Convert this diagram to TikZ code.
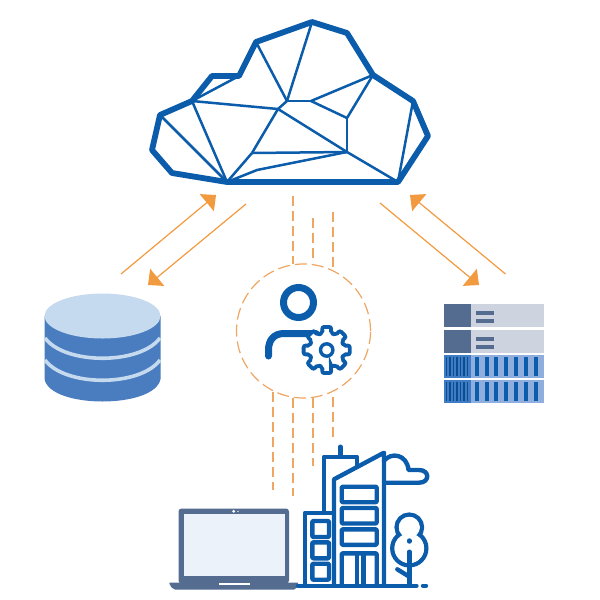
\documentclass[tikz,border=0pt]{standalone}
\usepackage{tikz}
\usetikzlibrary{arrows.meta,positioning,calc}
\definecolor{cloudblue}{HTML}{0B5CAB}
\definecolor{flow}{HTML}{F29A3F}
\definecolor{dashflow}{HTML}{EFA663}
\definecolor{dbtop}{HTML}{C6DAEF}
\definecolor{dbside}{HTML}{4A7DBF}
\definecolor{slate}{HTML}{536C90}
\definecolor{rackgrey}{HTML}{CDD4DF}
\definecolor{racklight}{HTML}{8FADDD}
\definecolor{rackmid}{HTML}{3F7CC4}
\definecolor{screenfill}{HTML}{ECF2FA}
\tikzset{
  rim/.style={cloudblue, line width=5.8pt, line join=round},
  facet/.style={cloudblue, line width=2.5pt, line join=round},
  flowarrow/.style={flow, line width=1.2pt, -{Triangle[length=12pt,width=22pt]}},
  dashlink/.style={color=dashflow, line width=1.8pt, dash pattern=on 10pt off 5pt},
  blueline/.style={cloudblue, line width=4.4pt, line join=round, line cap=round},
  window/.style={blueline, rounded corners=1pt},
}
\begin{document}
\begin{tikzpicture}[x=1pt,y=-1pt]
      \useasboundingbox (0,0) rectangle (600,600);

      % cloud corners
      \coordinate (c1) at (227,182);
      \coordinate (c2) at (172,173);
      \coordinate (c3) at (152,150);
      \coordinate (c4) at (160,115);
      \coordinate (c5) at (192,101);
      \coordinate (c6) at (212,76);
      \coordinate (c7) at (239,76);
      \coordinate (c8) at (256,42);
      \coordinate (c9) at (312,22);
      \coordinate (c10) at (347,33);
      \coordinate (c11) at (373,75);
      \coordinate (c12) at (413,101);
      \coordinate (c13) at (428,136);
      \coordinate (c14) at (398,182);
      % cloud inner points
      \coordinate (m1) at (287,101);
      \coordinate (m2) at (278,109);
      \coordinate (m3) at (311,101);
      \coordinate (m4) at (347,118);
      \coordinate (m5) at (347,152);
      \coordinate (m6) at (252,153);
      \coordinate (m7) at (257,170);

      \foreach \from/\to in {c5/c7,c5/m2,c5/c1,c4/c1,c8/m1,c9/m1,m1/m2,m1/m3,m3/c11,m3/m4,m4/c11,m4/m5,m2/m5,m2/m6,m6/m5,m6/c1,m5/c14,c12/c14}
        \draw[facet] (\from) -- (\to);
      \draw[facet] (c1) -- (m7) -- (m5);
      \draw[rim] (c1) -- (c2) -- (c3) -- (c4) -- (c5) -- (c6) -- (c7) -- (c8) -- (c9) -- (c10) -- (c11) -- (c12) -- (c13) -- (c14) -- cycle;

      % arrows left and right
      \coordinate (la) at (121,274);
      \coordinate (lb) at (216,195);
      \coordinate (lc) at (246,204);
      \coordinate (ld) at (148,285);
      \coordinate (ra) at (380,203);
      \coordinate (rb) at (479,285);
      \coordinate (rc) at (505.5,274);
      \coordinate (rd) at (410,195);
      \draw[flowarrow] (la) -- (lb);
      \draw[flowarrow] (lc) -- (ld);
      \draw[flowarrow] (ra) -- (rb);
      \draw[flowarrow] (rc) -- (rd);

      % database
      \fill[dbside] (44.5,316) -- (44.5,379) .. controls (50,409) and (155,409) .. (160.5,379) -- (160.5,316) -- cycle;
      \foreach \y in {338,360}
        \draw[dbtop, line width=3.6pt] (45,\y) .. controls (65,\y+27) and (140,\y+27) .. (160,\y);
      \fill[dbtop] (102.5,316) ellipse (58 and 22.5);

      % server
      \foreach \y in {303.5,329.5} {
        \fill[rackgrey] (443.5,\y) rectangle ++(100,23);
        \fill[slate] (443.5,\y) rectangle ++(27,23);
        \fill[slate] (475.5,\y+7) rectangle ++(18.5,4);
        \fill[slate] (475.5,\y+15) rectangle ++(18.5,4);
      }
      \foreach \y in {354.5,379.5} {
        \fill[racklight] (443.5,\y) rectangle ++(100,23.5);
        \fill[rackmid] (443.5,\y) rectangle ++(27,23.5);
        \foreach \x in {0,...,6}
          \fill[cloudblue] (474.7+9.8*\x,\y+2.5) rectangle ++(4,18.5);
        \foreach \x in {0,...,6}
          \fill[cloudblue!85!black] (445.5+3.5*\x,\y+2.5) rectangle ++(1.6,18.5);
      }

      % dashed links
      \node[draw=dashflow, line width=1.2pt, dash pattern=on 12pt off 5pt, circle, minimum size=134pt, inner sep=0pt] (admin) at (303.5,331) {};
      \coordinate (ta) at (293.2,196);
      \coordinate (tb) at (293.2,264);
      \coordinate (tc) at (313.2,218);
      \coordinate (td) at (313.2,262);
      \coordinate (te) at (333.2,212);
      \coordinate (tf) at (333.2,268);
      \coordinate (ba) at (273.2,392);
      \coordinate (bb) at (273.2,490);
      \coordinate (bc) at (293.2,398);
      \coordinate (bd) at (293.2,496);
      \coordinate (be) at (313.2,398);
      \coordinate (bf) at (313.2,466);
      \coordinate (bg) at (333.2,397);
      \coordinate (bh) at (333.2,440);
      \draw[dashlink] (ta) -- (tb);
      \draw[dashlink] (tc) -- (td);
      \draw[dashlink] (te) -- (tf);
      \draw[dashlink] (ba) -- (bb);
      \draw[dashlink] (bc) -- (bd);
      \draw[dashlink] (be) -- (bf);
      \draw[dashlink] (bg) -- (bh);

      % person and gear
      \draw[cloudblue, line width=7pt] (298.5,302.5) circle (15);
      \draw[cloudblue, line width=7pt, line cap=round] (268.5,356) -- (268.5,350) .. controls (268.5,340) and (274,333.5) .. (284,333.5) -- (316,333.5);
      \begin{scope}[shift={(326.7,350)}]
        \draw[cloudblue, fill=white, line width=3.8pt, rounded corners=2pt]
          (76:17.5) foreach \a in {90,135,...,405} { -- (\a-14:17.5) -- (\a-11:23.5) -- (\a+11:23.5) -- (\a+14:17.5) } -- cycle;
        \draw[cloudblue, line width=3.4pt] (0,0) circle (6.2);
      \end{scope}

      % laptop
      \fill[slate, rounded corners=3pt] (178.5,508.5) rectangle (289,583.5);
      \fill[screenfill] (183.5,514) rectangle (284.5,575.5);
      \fill[white] (233.7,511.3) circle (1.6);
      \fill[white] (238,511.3) circle (0.7);
      \fill[slate, rounded corners=2pt] (168.5,582.5) -- (299,582.5) -- (296,589.5) -- (173,589.5) -- cycle;
      \fill[white] (218.5,582.5) rectangle (249.5,584.5);

      % building
      \draw[blueline] (298,585.7) -- (416.5,585.7);
      \draw[blueline] (423,585.7) -- (426,585.7);
      \draw[blueline] (305,585.7) -- (305,512.7) -- (333,512.7);
      \draw[blueline] (324,512.7) -- (324,456.7) -- (356.7,456.7) -- (356.7,465);
      \draw[blueline] (340.3,446.7) -- (340.3,456.7);
      \draw[blueline] (334,585.7) -- (334,479.3) -- (384,452.7) -- (384,585.7);
      \foreach \y in {521,542.3,563.7}
        \draw[window] (312.3,\y) rectangle ++(16.7,16);
      \foreach \y in {486.7,508,529.3}
        \draw[window] (341.7,\y) rectangle ++(35,15.5);
      \draw[window] (341.7,585.7) -- (341.7,553.3) -- (376.7,553.3) -- (376.7,585.7);
      \draw[blueline] (356.7,553.3) -- (356.7,585.7);
      \draw[blueline] (363.3,553.3) -- (363.3,585.7);
      \draw[blueline] (384,460.7) .. controls (391,452) and (407,454) .. (408.5,470) -- (419,470) .. controls (430,470) and (430,482.7) .. (419,482.7) -- (385,482.7);

      % tree
      \draw[cloudblue, line width=4.4pt] (409.3,527.3) circle (12.7);
      \draw[cloudblue, line width=4.4pt] (409.3,548.3) circle (17);
      \fill[white] (409.3,527.3) circle (10.5);
      \fill[white] (409.3,548.3) circle (14.8);
      \draw[blueline] (409.3,551.7) -- (409.3,585.7);
      \draw[blueline] (397.3,569.3) -- (409.3,576.7);
      \draw[blueline] (409.3,540.5) -- (409.3,541.5);
\end{tikzpicture}
\end{document}
